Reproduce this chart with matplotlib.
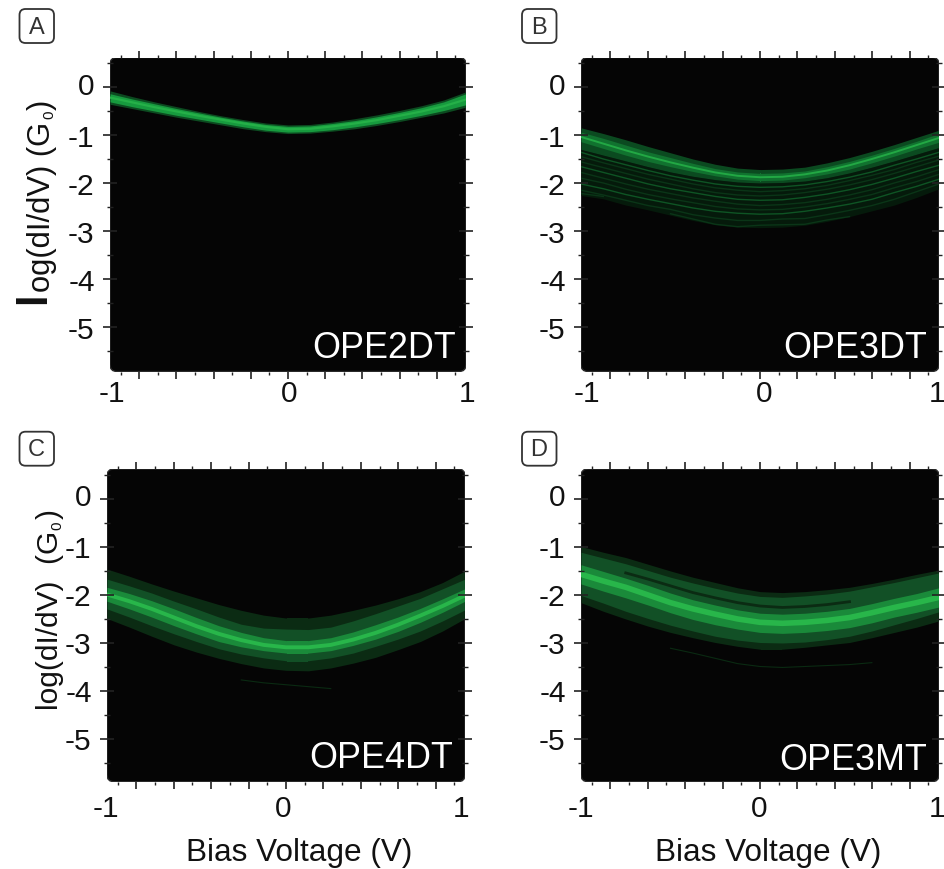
import matplotlib
matplotlib.use('Agg')
import matplotlib.pyplot as plt
from matplotlib.patches import FancyBboxPatch
from matplotlib.transforms import IdentityTransform, ScaledTranslation

plt.rcParams['font.family'] = ['Liberation Sans', 'DejaVu Sans']

W, H = 945, 870
nan = float('nan')

# values, one per 0.125 V
bias = [-1, -0.875, -0.75, -0.625, -0.5, -0.375, -0.25, -0.125, 0,
        0.125, 0.25, 0.375, 0.5, 0.625, 0.75, 0.875, 1]

a_outer_top = [-0.08, -0.20, -0.31, -0.41, -0.51, -0.60, -0.68, -0.75, -0.79, -0.78, -0.73, -0.66, -0.58, -0.49, -0.39, -0.27, -0.10]
a_outer_bot = [-0.36, -0.45, -0.54, -0.63, -0.71, -0.79, -0.87, -0.93, -0.97, -0.96, -0.92, -0.87, -0.80, -0.72, -0.63, -0.54, -0.42]
a_mid_top = [-0.14, -0.25, -0.35, -0.45, -0.54, -0.63, -0.71, -0.78, -0.82, -0.81, -0.76, -0.70, -0.62, -0.53, -0.43, -0.31, -0.14]
a_mid_bot = [-0.31, -0.41, -0.50, -0.59, -0.67, -0.75, -0.83, -0.90, -0.94, -0.93, -0.89, -0.83, -0.76, -0.68, -0.59, -0.49, -0.37]
a_ridge = [-0.22, -0.32, -0.42, -0.51, -0.60, -0.68, -0.76, -0.83, -0.88, -0.87, -0.82, -0.76, -0.69, -0.60, -0.51, -0.40, -0.26]

b_outer_top = [-0.85, -0.97, -1.10, -1.24, -1.37, -1.50, -1.61, -1.69, -1.72, -1.71, -1.67, -1.58, -1.47, -1.34, -1.20, -1.05, -0.90]
b_outer_bot = [-2.26, -2.33, -2.46, -2.56, -2.67, -2.78, -2.87, -2.92, -2.93, -2.92, -2.88, -2.80, -2.70, -2.58, -2.46, -2.30, -2.12]
b_band_bot = [-1.30, -1.42, -1.54, -1.66, -1.77, -1.86, -1.93, -1.98, -2.00, -1.99, -1.96, -1.89, -1.79, -1.67, -1.54, -1.40, -1.26]
b_mid_top = [-0.94, -1.07, -1.21, -1.35, -1.47, -1.59, -1.70, -1.77, -1.80, -1.79, -1.75, -1.66, -1.55, -1.42, -1.28, -1.13, -0.97]
b_mid_bot = [-1.14, -1.28, -1.42, -1.55, -1.66, -1.76, -1.85, -1.92, -1.95, -1.94, -1.89, -1.81, -1.71, -1.58, -1.44, -1.29, -1.15]
b_ridge = [-1.04, -1.18, -1.32, -1.45, -1.57, -1.68, -1.78, -1.85, -1.88, -1.87, -1.82, -1.74, -1.63, -1.50, -1.36, -1.21, -1.06]
b_streaks = [
    [-1.36, -1.50, -1.62, -1.74, -1.85, -1.94, -2.02, -2.07, -2.09, -2.08, -2.04, -1.97, -1.88, -1.77, -1.63, -1.50, -1.36],
    [-1.45, -1.58, -1.70, -1.82, -1.92, -2.02, -2.10, -2.15, -2.18, -2.16, -2.12, -2.05, -1.95, -1.84, -1.72, -1.57, -1.44],
    [-1.56, -1.68, -1.80, -1.92, -2.02, -2.12, -2.20, -2.25, -2.27, -2.25, -2.20, -2.13, -2.04, -1.93, -1.80, -1.66, -1.52],
    [-1.66, -1.78, -1.90, -2.02, -2.12, -2.20, -2.28, -2.34, -2.36, -2.35, -2.30, -2.23, -2.14, -2.03, -1.90, -1.76, -1.63],
    [-1.78, -1.90, -2.02, -2.13, -2.22, -2.31, -2.38, -2.44, -2.47, -2.45, -2.41, -2.34, -2.25, -2.14, -2.00, -1.87, -1.72],
    [-1.90, -2.00, -2.13, -2.24, -2.33, -2.41, -2.49, -2.54, -2.56, -2.55, -2.50, -2.43, -2.34, -2.24, -2.10, -1.97, -1.82],
    [-2.02, -2.12, -2.24, -2.34, -2.43, -2.52, -2.59, -2.63, -2.65, -2.64, -2.59, -2.52, -2.44, -2.34, -2.20, -2.07, -1.92],
    [-2.15, -2.25, -2.36, -2.47, -2.55, -2.66, -2.73, -2.78, -2.78, -2.75, -2.74, -2.66, -2.57, -2.47, -2.34, -2.18, -2.02],
    [-2.22, -2.28, nan, nan, -2.64, -2.75, -2.86, -2.91, -2.88, -2.87, -2.86, -2.77, -2.70, nan, nan, nan, nan],
]

c_outer_top = [-1.47, -1.62, -1.78, -1.93, -2.07, -2.21, -2.33, -2.43, -2.49, -2.49, -2.43, -2.33, -2.22, -2.09, -1.94, -1.75, -1.51]
c_outer_bot = [-2.50, -2.68, -2.87, -3.05, -3.20, -3.33, -3.44, -3.53, -3.58, -3.59, -3.53, -3.43, -3.31, -3.15, -2.98, -2.76, -2.50]
c_mid_top = [-1.68, -1.82, -1.97, -2.14, -2.30, -2.47, -2.62, -2.70, -2.72, -2.73, -2.68, -2.55, -2.40, -2.24, -2.08, -1.88, -1.68]
c_mid_bot = [-2.30, -2.47, -2.65, -2.82, -2.98, -3.13, -3.24, -3.32, -3.38, -3.38, -3.32, -3.22, -3.08, -2.93, -2.76, -2.55, -2.32]
c_inner_top = [-1.85, -1.98, -2.13, -2.30, -2.48, -2.65, -2.79, -2.90, -2.96, -2.96, -2.90, -2.78, -2.63, -2.47, -2.29, -2.09, -1.88]
c_inner_bot = [-2.14, -2.30, -2.47, -2.65, -2.82, -2.98, -3.09, -3.17, -3.22, -3.22, -3.17, -3.06, -2.93, -2.77, -2.58, -2.37, -2.14]
c_ridge = [-2.00, -2.14, -2.30, -2.48, -2.66, -2.82, -2.95, -3.05, -3.10, -3.10, -3.05, -2.94, -2.80, -2.63, -2.44, -2.24, -2.02]
c_faint = [nan, nan, nan, nan, nan, nan, -3.78, -3.84, -3.88, -3.92, -3.96, nan, nan, nan, nan, nan, nan]

d_outer_top = [-1.00, -1.12, -1.23, -1.37, -1.51, -1.64, -1.75, -1.86, -1.94, -1.96, -1.94, -1.90, -1.85, -1.77, -1.68, -1.58, -1.49]
d_outer_bot = [-2.17, -2.35, -2.51, -2.66, -2.79, -2.90, -3.00, -3.08, -3.14, -3.14, -3.10, -3.05, -3.00, -2.90, -2.79, -2.68, -2.55]
d_mid_top = [-1.12, -1.24, -1.36, -1.50, -1.64, -1.76, -1.87, -1.97, -2.04, -2.06, -2.03, -1.99, -1.93, -1.84, -1.75, -1.65, -1.55]
d_mid_bot = [-2.02, -2.18, -2.35, -2.50, -2.64, -2.76, -2.87, -2.95, -3.00, -3.01, -2.99, -2.94, -2.87, -2.76, -2.63, -2.50, -2.36]
d_inner_top = [-1.38, -1.52, -1.66, -1.81, -1.97, -2.11, -2.22, -2.32, -2.39, -2.41, -2.39, -2.35, -2.29, -2.19, -2.08, -1.98, -1.86]
d_inner_bot = [-1.78, -1.93, -2.07, -2.22, -2.38, -2.52, -2.63, -2.72, -2.79, -2.81, -2.79, -2.75, -2.69, -2.59, -2.47, -2.37, -2.26]
d_ridge = [-1.58, -1.72, -1.85, -2.01, -2.17, -2.30, -2.41, -2.51, -2.58, -2.60, -2.58, -2.54, -2.48, -2.38, -2.27, -2.17, -2.06]
d_seam = [nan, nan, -1.55, -1.68, -1.82, -1.96, -2.07, -2.17, -2.24, -2.27, -2.25, -2.21, -2.15, nan, nan, nan, nan]
d_faint = [nan, nan, nan, nan, -3.12, -3.22, -3.33, -3.44, -3.50, -3.52, -3.50, -3.48, -3.46, -3.42, nan, nan, nan]

panel_names = ['OPE2DT', 'OPE3DT', 'OPE4DT', 'OPE3MT']
panel_letters = ['A', 'B', 'C', 'D']
y_major = [0, -1, -2, -3, -4, -5]
y_minor = [0.5, -0.5, -1.5, -2.5, -3.5, -4.5, -5.5]
x_major = [-0.836, -0.627, -0.418, -0.209, 0, 0.209, 0.418, 0.627, 0.836]
x_minor = [-0.94, -0.732, -0.523, -0.314, -0.105, 0.105, 0.314, 0.523, 0.732, 0.94]

INK = '#222222'
BG = '#050505'
DIM = '#0b2b13'
DARK = '#125026'
MID = '#1a8a3a'
BRIGHT = '#28b64a'

fig = plt.figure(figsize=(W / 100, H / 100), dpi=100)


def ftext(x, y, s, **kw):
    kw.setdefault('ha', 'center')
    kw.setdefault('va', 'center')
    kw.setdefault('color', '#111111')
    return fig.text(x / W, 1 - y / H, s, **kw)


def rot_text(x, y, s, size, **kw):
    return ftext(x, y, s, rotation=90, fontsize=size, ha='left', va='baseline',
                 rotation_mode='anchor', **kw)


def make_panel(left, right, top, bottom):
    ax = fig.add_axes([left / W, 1 - bottom / H, (right - left) / W, (bottom - top) / H])
    ax.set_xlim(-1, 1)
    # 48 px per decade, zero is about 30 px below the top edge
    ax.set_ylim(-(bottom - top - 29.5) / 48.0, 29.5 / 48.0)
    ax.patch.set_visible(False)
    for sp in ax.spines.values():
        sp.set_visible(False)
    box = FancyBboxPatch((left, H - bottom), right - left, bottom - top,
                         boxstyle='round,pad=0,rounding_size=7',
                         transform=IdentityTransform(), fc=BG, ec='#2a2a2a', lw=1, zorder=0)
    ax.add_patch(box)
    ax.set_xticks(x_major)
    ax.set_xticklabels([])
    ax.set_xticks(x_minor, minor=True)
    ax.set_yticks(y_major)
    ax.set_yticklabels([str(v) for v in y_major], fontsize=21.5, color='#111111')
    ax.set_yticks(y_minor, minor=True)
    ax.tick_params(axis='x', which='major', top=True, bottom=True, direction='out', length=5, width=1.2, color=INK)
    ax.tick_params(axis='x', which='minor', top=True, bottom=True, direction='out', length=2.5, width=1, color=INK)
    ax.tick_params(axis='y', which='major', left=True, right=True, direction='inout', length=10, width=1.2, color=INK, pad=6)
    ax.tick_params(axis='y', which='minor', left=True, right=True, direction='inout', length=5, width=1, color=INK)
    # the zero label sits a little above its tick
    lab = ax.get_yticklabels()[0]
    lab.set_transform(lab.get_transform() + ScaledTranslation(0, 3 / 72, fig.dpi_scale_trans))
    return ax, box


def band(ax, box, top, bot, color):
    p = ax.fill_between(bias, top, bot, color=color, lw=0, zorder=1)
    p.set_clip_path(box)


def trace(ax, box, vals, color, lw):
    ln, = ax.plot(bias, vals, color=color, lw=lw, zorder=1.2)
    ln.set_clip_path(box)


# A
ax, box = make_panel(110, 466, 58.5, 372.5)
band(ax, box, a_outer_top, a_outer_bot, '#0c4a20')
band(ax, box, a_mid_top, a_mid_bot, '#179a3e')
trace(ax, box, a_ridge, '#25b048', 1.6)

# B
ax, box = make_panel(581, 939, 58.5, 372.5)
band(ax, box, b_band_bot, b_outer_bot, '#051a0b')
for i, s in enumerate(b_streaks):
    trace(ax, box, s, '#0e5424' if i % 3 == 0 else '#0a3517', 1.0)
band(ax, box, b_outer_top, b_band_bot, '#0b4a20')
band(ax, box, b_mid_top, b_mid_bot, '#11722f')
trace(ax, box, b_ridge, '#22a844', 1.4)

# C
ax, box = make_panel(107, 465, 470, 782.7)
trace(ax, box, c_faint, '#0a2a12', 0.8)
band(ax, box, c_outer_top, c_outer_bot, DIM)
band(ax, box, c_mid_top, c_mid_bot, DARK)
band(ax, box, c_inner_top, c_inner_bot, MID)
trace(ax, box, c_ridge, BRIGHT, 2.8)

# D
ax, box = make_panel(581, 939, 470, 782.7)
trace(ax, box, d_faint, '#0a2a12', 0.8)
band(ax, box, d_outer_top, d_outer_bot, DIM)
band(ax, box, d_mid_top, d_mid_bot, DARK)
trace(ax, box, d_seam, DIM, 2)
band(ax, box, d_inner_top, d_inner_bot, MID)
trace(ax, box, d_ridge, BRIGHT, 4)

# panel names
ftext(456, 348, panel_names[0], ha='right', color='white', fontsize=25.8)
ftext(926.7, 348, panel_names[1], ha='right', color='white', fontsize=25.8)
ftext(453, 759, panel_names[2], ha='right', color='white', fontsize=25.8)
ftext(926.7, 760, panel_names[3], ha='right', color='white', fontsize=25.8)

# x tick labels are set by hand in the source figure, not aligned with the ticks
for x, s in [(112, '-1'), (289, '0'), (467, '1'), (587, '-1'), (764, '0'), (937, '1')]:
    ftext(x, 394, s, fontsize=21.5)
for x, s in [(106, '-1'), (283, '0'), (461, '1'), (581, '-1'), (759, '0'), (937, '1')]:
    ftext(x, 809, s, fontsize=21.5)

ftext(299, 853, 'Bias Voltage (V)', fontsize=22.7)
ftext(768, 853, 'Bias Voltage (V)', fontsize=22.7)

# y labels, A has an oversized first letter
rot_text(45, 304, 'l', 30, fontweight='bold')
rot_text(50, 292.5, 'og(dI/dV) (G', 22.3)
rot_text(53, 119, '0', 11)
rot_text(50, 110, ')', 22.3)

rot_text(58, 710, 'log(dI/dV)  (G', 21.5)
rot_text(61, 530, '0', 11)
rot_text(58, 519, ')', 21.5)

# letter boxes
for (x0, y0), s in zip([(19.5, 10), (522, 10), (19.5, 432.7), (522, 432.7)], panel_letters):
    fig.add_artist(FancyBboxPatch((x0, H - y0 - 34), 34.5, 34,
                                  boxstyle='round,pad=0,rounding_size=6',
                                  transform=IdentityTransform(), fc='white', ec='#333333', lw=1.3))
    ftext(x0 + 17, y0 + 17.5, s, fontsize=17, color='#333333')

fig.savefig('out.png', dpi=100, facecolor='white')
